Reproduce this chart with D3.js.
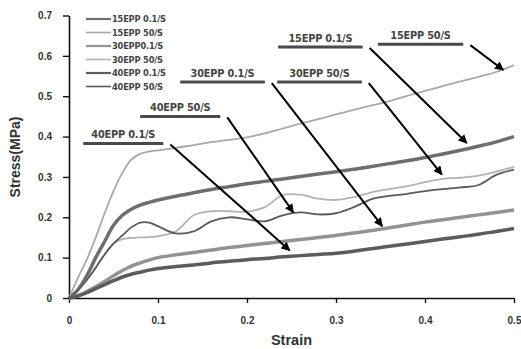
<!DOCTYPE html>
<html>
<head>
<meta charset="utf-8">
<script src="https://cdn.jsdelivr.net/npm/d3@7"></script>
<style>
  body { margin: 0; background: #fff; }
  svg { display: block; font-family: "Liberation Sans", Arial, sans-serif; }
</style>
</head>
<body>
<div id="chart"></div>
<script>
// Series names (legend order)
const seriesNames = ["15EPP 0.1/S", "15EPP 50/S", "30EPP0.1/S", "30EPP 50/S", "40EPP 0.1/S", "40EPP 50/S"];

// Strain grid shared by all curves
const strain = [0, 0.01, 0.02, 0.03, 0.04, 0.05, 0.06, 0.07, 0.08, 0.09, 0.10,
  0.12, 0.14, 0.16, 0.18, 0.20, 0.22, 0.24, 0.26, 0.28, 0.30,
  0.32, 0.34, 0.36, 0.38, 0.40, 0.42, 0.44, 0.46, 0.48, 0.50];

// Stress (MPa)
const stress15slow = [0, 0.02, 0.055, 0.10, 0.14, 0.18, 0.205, 0.22, 0.23, 0.237, 0.243,
  0.252, 0.261, 0.269, 0.276, 0.283, 0.289, 0.295, 0.301, 0.307, 0.313,
  0.319, 0.326, 0.333, 0.34, 0.348, 0.357, 0.366, 0.376, 0.387, 0.40];
const stress15fast = [0, 0.05, 0.095, 0.15, 0.21, 0.265, 0.31, 0.343, 0.357, 0.363, 0.366,
  0.372, 0.379, 0.386, 0.392, 0.398, 0.408, 0.42, 0.432, 0.443, 0.455,
  0.466, 0.477, 0.488, 0.501, 0.513, 0.525, 0.537, 0.548, 0.56, 0.577];
const stress30slow = [0, 0.006, 0.016, 0.028, 0.041, 0.055, 0.068, 0.079, 0.087, 0.094, 0.10,
  0.107, 0.113, 0.119, 0.125, 0.13, 0.135, 0.14, 0.145, 0.15, 0.155,
  0.161, 0.167, 0.174, 0.181, 0.188, 0.194, 0.20, 0.206, 0.212, 0.218];
const stress30fast = [0, 0.02, 0.045, 0.075, 0.108, 0.135, 0.146, 0.149, 0.15, 0.151, 0.153,
  0.165, 0.205, 0.215, 0.215, 0.214, 0.225, 0.255, 0.256, 0.246, 0.243,
  0.25, 0.262, 0.27, 0.277, 0.287, 0.295, 0.298, 0.303, 0.313, 0.325];
const stress40slow = [0, 0.005, 0.013, 0.023, 0.033, 0.043, 0.052, 0.059, 0.064, 0.069, 0.073,
  0.078, 0.082, 0.087, 0.091, 0.095, 0.098, 0.102, 0.105, 0.108, 0.111,
  0.116, 0.122, 0.128, 0.134, 0.14, 0.146, 0.152, 0.158, 0.165, 0.172];
const stress40fast = [0, 0.02, 0.045, 0.075, 0.108, 0.135, 0.155, 0.175, 0.187, 0.187, 0.178,
  0.16, 0.165, 0.19, 0.20, 0.195, 0.19, 0.205, 0.212, 0.207, 0.21,
  0.225, 0.245, 0.253, 0.258, 0.265, 0.27, 0.274, 0.28, 0.305, 0.318];

const seriesValues = [stress15slow, stress15fast, stress30slow, stress30fast, stress40slow, stress40fast];

// Tick labels
const xTicks = [0, 0.1, 0.2, 0.3, 0.4, 0.5];
const yTicks = [0, 0.1, 0.2, 0.3, 0.4, 0.5, 0.6, 0.7];

// Look of each curve
const colors = ["#6e6e6e", "#a9a9a9", "#939393", "#b3b3b3", "#5c5c5c", "#5a5a5a"];
const widths = [3.5, 1.8, 3.5, 1.8, 3.5, 1.8];

// Callouts: label, bar from x0 to x1 at y, arrow tip at (tx, ty) -- data units
const callouts = [
  { label: "40EPP 0.1/S", x0: 0.016, x1: 0.106, y: 0.383, tx: 0.248, ty: 0.118 },
  { label: "40EPP 50/S",  x0: 0.080, x1: 0.170, y: 0.450, tx: 0.252, ty: 0.212 },
  { label: "30EPP 0.1/S", x0: 0.125, x1: 0.220, y: 0.535, tx: 0.352, ty: 0.178 },
  { label: "30EPP 50/S",  x0: 0.234, x1: 0.329, y: 0.535, tx: 0.419, ty: 0.306 },
  { label: "15EPP 0.1/S", x0: 0.235, x1: 0.330, y: 0.622, tx: 0.447, ty: 0.384 },
  { label: "15EPP 50/S",  x0: 0.347, x1: 0.443, y: 0.629, tx: 0.488, ty: 0.565 }
];

const width = 521, height = 349;

const svg = d3.select("#chart")
  .append("svg")
    .attr("width", width)
    .attr("height", height);

const x = d3.scaleLinear().domain([0, 0.5]).range([69, 514]);
const y = d3.scaleLinear().domain([0, 0.7]).range([298, 15.5]);

// arrow head
svg.append("defs")
  .append("marker")
    .attr("id", "head")
    .attr("viewBox", "0 0 10 10")
    .attr("refX", 9)
    .attr("refY", 5)
    .attr("markerWidth", 9)
    .attr("markerHeight", 9)
    .attr("markerUnits", "userSpaceOnUse")
    .attr("orient", "auto")
  .append("path")
    .attr("d", "M0,0 L10,5 L0,10 Z")
    .attr("fill", "#000");

// axes
const xAxis = svg.append("g")
  .attr("transform", `translate(0,${y(0)})`)
  .call(d3.axisBottom(x).tickValues(xTicks).tickFormat(d3.format("")).tickSize(5).tickSizeOuter(0).tickPadding(14));

const yAxis = svg.append("g")
  .attr("transform", `translate(${x(0)},0)`)
  .call(d3.axisLeft(y).tickValues(yTicks).tickFormat(d3.format("")).tickSize(6).tickSizeOuter(0).tickPadding(11));

[xAxis, yAxis].forEach(g => {
  g.select(".domain").attr("stroke", "#111").attr("stroke-width", 1.6);
  g.selectAll(".tick line").attr("stroke", "#111").attr("stroke-width", 1.4);
  g.selectAll(".tick text")
    .attr("fill", "#333")
    .style("font-size", "10px")
    .style("font-weight", "bold");
});

// curves
const line = d3.line()
  .x((d, i) => x(strain[i]))
  .y(d => y(d))
  .curve(d3.curveCatmullRom);

svg.append("g")
  .selectAll("path")
  .data(seriesValues)
  .join("path")
    .attr("d", line)
    .attr("fill", "none")
    .attr("stroke", (d, i) => colors[i])
    .attr("stroke-width", (d, i) => widths[i])
    .attr("stroke-linejoin", "round");

// legend
const legend = svg.append("g")
  .selectAll("g")
  .data(seriesNames)
  .join("g")
    .attr("transform", (d, i) => `translate(86,${19 + i * 13.5})`);

legend.append("line")
  .attr("x1", 0)
  .attr("x2", 25)
  .attr("stroke", (d, i) => colors[i])
  .attr("stroke-width", (d, i) => widths[i] > 2 ? 2.2 : 1.6);

legend.append("text")
  .attr("x", 26)
  .attr("dy", "0.36em")
  .attr("fill", "#444")
  .style("font-family", "'DejaVu Sans', sans-serif")
  .style("font-size", "8.3px")
  .style("font-weight", "bold")
  .style("letter-spacing", "-0.2px")
  .text(d => d);

// callouts
const notes = svg.append("g")
  .selectAll("g")
  .data(callouts)
  .join("g");

notes.append("line")
  .attr("x1", d => x(d.x0))
  .attr("x2", d => x(d.x1))
  .attr("y1", d => y(d.y))
  .attr("y2", d => y(d.y))
  .attr("stroke", "#4a4a4a")
  .attr("stroke-width", 3);

notes.append("text")
  .attr("x", d => (x(d.x0) + x(d.x1)) / 2)
  .attr("y", d => y(d.y) - 5)
  .attr("text-anchor", "middle")
  .attr("fill", "#444")
  .style("font-family", "'DejaVu Sans', sans-serif")
  .style("font-size", "9.8px")
  .style("font-weight", "bold")
  .style("letter-spacing", "-0.2px")
  .text(d => d.label);

notes.append("line")
  .attr("x1", d => x(d.x1) + 7)
  .attr("y1", d => y(d.y) + 1)
  .attr("x2", d => x(d.tx))
  .attr("y2", d => y(d.ty))
  .attr("stroke", "#000")
  .attr("stroke-width", 2)
  .attr("marker-end", "url(#head)");

// axis titles
svg.append("text")
  .attr("x", (x(0) + x(0.5)) / 2)
  .attr("y", 345)
  .attr("text-anchor", "middle")
  .attr("fill", "#333")
  .style("font-size", "14.5px")
  .style("font-weight", "bold")
  .text("Strain");

svg.append("text")
  .attr("transform", `translate(20,${157}) rotate(-90)`)
  .attr("text-anchor", "middle")
  .attr("fill", "#333")
  .style("font-size", "14px")
  .style("font-weight", "bold")
  .text("Stress(MPa)");
</script>
</body>
</html>
